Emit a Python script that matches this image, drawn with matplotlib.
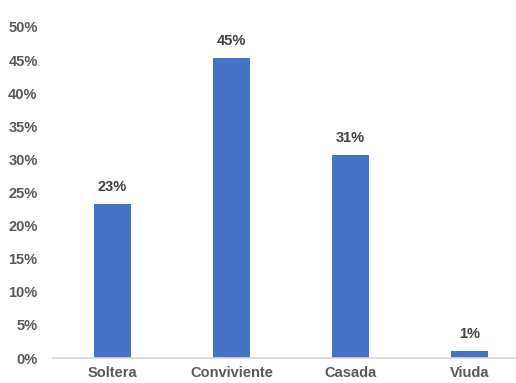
import matplotlib.pyplot as plt
from matplotlib.ticker import PercentFormatter
from matplotlib import font_manager

categorias = ["Soltera", "Conviviente", "Casada", "Viuda"]
porcentajes = [23.2, 45.3, 30.6, 1.0]
ticks_y = [0, 5, 10, 15, 20, 25, 30, 35, 40, 45, 50]

nombres = {f.name for f in font_manager.fontManager.ttflist}
fuente = "Liberation Sans Narrow" if "Liberation Sans Narrow" in nombres else "Liberation Sans"
plt.rcParams["font.family"] = [fuente, "DejaVu Sans"]

fig = plt.figure(figsize=(5.16, 3.83), dpi=100)
ax = fig.add_axes([53 / 516, 25 / 383, 476 / 516, 331 / 383])

x = range(len(categorias))
barras = ax.bar(x, porcentajes, width=0.31, color="#4472C4")

for b, v in zip(barras, porcentajes):
    ax.text(b.get_x() + b.get_width() / 2, v + 1.6, f"{v:.0f}%",
            ha="center", va="bottom", fontsize=10.5, fontweight="bold",
            color="#404040")

ax.set_xlim(-0.5, len(categorias) - 0.5)
ax.set_ylim(0, 50)
ax.set_yticks(ticks_y)
ax.yaxis.set_major_formatter(PercentFormatter(decimals=0))
ax.set_xticks(list(x))
ax.set_xticklabels(categorias)

for s in ["top", "right", "left"]:
    ax.spines[s].set_visible(False)
ax.spines["bottom"].set_color("#D9D9D9")
ax.spines["bottom"].set_linewidth(1.2)

ax.tick_params(axis="y", length=0, pad=11, labelsize=10.5, labelcolor="#595959")
ax.tick_params(axis="x", length=0, pad=6, labelsize=10.5, labelcolor="#595959")
for lbl in ax.get_xticklabels() + ax.get_yticklabels():
    lbl.set_fontweight("bold")

fig.savefig("out.png", dpi=100)
